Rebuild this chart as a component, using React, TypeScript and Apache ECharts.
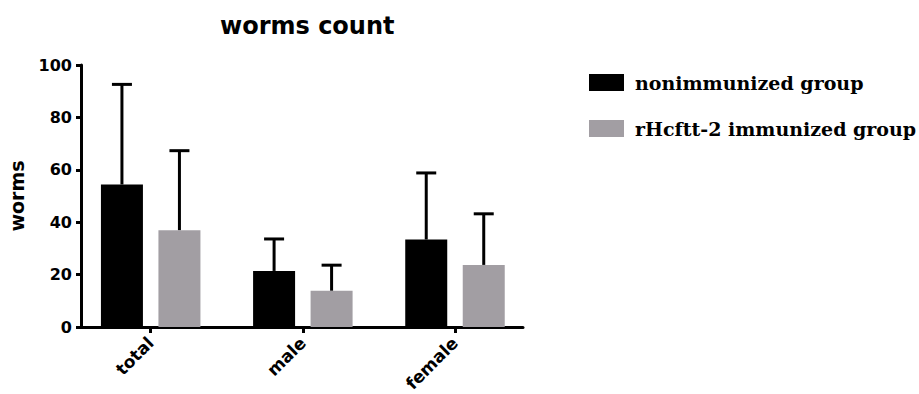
import React, { useEffect, useRef } from "react";
import * as echarts from "echarts";

const categories = ["total", "male", "female"];
const seriesNames = ["nonimmunized group", "rHcftt-2 immunized group"];
const nonimmunizedMean = [54.4, 21.4, 33.4];
const nonimmunizedUpper = [92.6, 33.6, 58.8];
const immunizedMean = [36.9, 13.8, 23.7];
const immunizedUpper = [67.3, 23.6, 43.2];
const yTicks = [0, 20, 40, 60, 80, 100];

const BAR_W = 42;
const BAR_GAP_PX = 15.5;
const OFFSET = (BAR_W + BAR_GAP_PX) / 2;
const CAP = 10;
const COLORS = ["#000000", "#a29ea3"];

function errSeries(upper: number[], mean: number[], dir: number) {
  return {
    type: "custom",
    silent: true,
    z: 1,
    data: upper.map((u, i) => [i, mean[i], u]),
    renderItem: (params: any, api: any) => {
      const x = api.value(0);
      const lo = api.coord([x, api.value(1)]);
      const hi = api.coord([x, api.value(2)]);
      const cx = lo[0] + dir * OFFSET;
      return {
        type: "group",
        children: [
          {
            type: "line",
            shape: { x1: cx, y1: lo[1], x2: cx, y2: hi[1] },
            style: { stroke: "#000", lineWidth: 3 },
          },
          {
            type: "line",
            shape: { x1: cx - CAP, y1: hi[1], x2: cx + CAP, y2: hi[1] },
            style: { stroke: "#000", lineWidth: 3 },
          },
        ],
      };
    },
  };
}

export default function App() {
  const ref = useRef<HTMLDivElement>(null);
  useEffect(() => {
    if (!ref.current) return;
    const chart = echarts.init(ref.current, null, { renderer: "svg" });
    chart.setOption({
      animation: false,
      title: {
        text: "worms count",
        left: 215,
        top: 9,
        textStyle: {
          fontFamily: "DejaVu Sans",
          fontWeight: "bold",
          fontSize: 24,
          color: "#000",
        },
      },
      legend: {
        orient: "vertical",
        left: 584,
        top: 68,
        itemWidth: 35,
        itemHeight: 17,
        itemGap: 27,
        icon: "rect",
        data: seriesNames,
        textStyle: {
          fontFamily: "DejaVu Serif",
          fontWeight: "bold",
          fontSize: 19,
          color: "#000",
          padding: [0, 0, 0, 6],
        },
      },
      grid: {
        left: 81,
        right: 396,
        top: 65,
        bottom: 67,
        containLabel: false,
        outerBoundsMode: "none",
      },
      xAxis: {
        type: "value",
        min: -0.458,
        max: 2.447,
        splitLine: { show: false },
        axisLine: { show: true, onZero: false, lineStyle: { color: "#000", width: 3 } },
        axisTick: {
          show: true,
          customValues: [0, 1, 2],
          length: 6,
          lineStyle: { color: "#000", width: 3 },
        },
        axisLabel: {
          customValues: [0, 1, 2],
          formatter: (v: number) => categories[Math.round(v)] ?? "",
          rotate: 45,
          margin: 13,
          fontFamily: "DejaVu Sans",
          fontWeight: "bold",
          fontSize: 17,
          color: "#000",
        },
      },
      yAxis: {
        type: "value",
        min: 0,
        max: 100,
        interval: 20,
        name: "worms",
        nameLocation: "middle",
        nameGap: 55,
        nameTextStyle: {
          fontFamily: "DejaVu Sans",
          fontWeight: "bold",
          fontSize: 19,
          color: "#000",
        },
        splitLine: { show: false },
        axisLine: { show: true, onZero: false, lineStyle: { color: "#000", width: 3 } },
        axisTick: { show: true, length: 5, lineStyle: { color: "#000", width: 3 } },
        axisLabel: {
          margin: 9,
          fontFamily: "DejaVu Sans",
          fontWeight: "bold",
          fontSize: 16,
          color: "#000",
          formatter: (v: number) => (yTicks.includes(v) ? String(v) : ""),
        },
      },
      series: [
        {
          name: seriesNames[0],
          type: "bar",
          barWidth: BAR_W,
          barGap: (BAR_GAP_PX / BAR_W) * 100 + "%",
          itemStyle: { color: COLORS[0] },
          z: 2,
          data: nonimmunizedMean.map((v, i) => [i, v]),
        },
        {
          name: seriesNames[1],
          type: "bar",
          barWidth: BAR_W,
          barGap: (BAR_GAP_PX / BAR_W) * 100 + "%",
          itemStyle: { color: COLORS[1] },
          z: 2,
          data: immunizedMean.map((v, i) => [i, v]),
        },
        errSeries(nonimmunizedUpper, nonimmunizedMean, -1),
        errSeries(immunizedUpper, immunizedMean, 1),
      ],
    });
    return () => chart.dispose();
  }, []);
  return <div ref={ref} style={{ width: 919, height: 394, position: "absolute", left: 0, top: 0 }} />;
}
